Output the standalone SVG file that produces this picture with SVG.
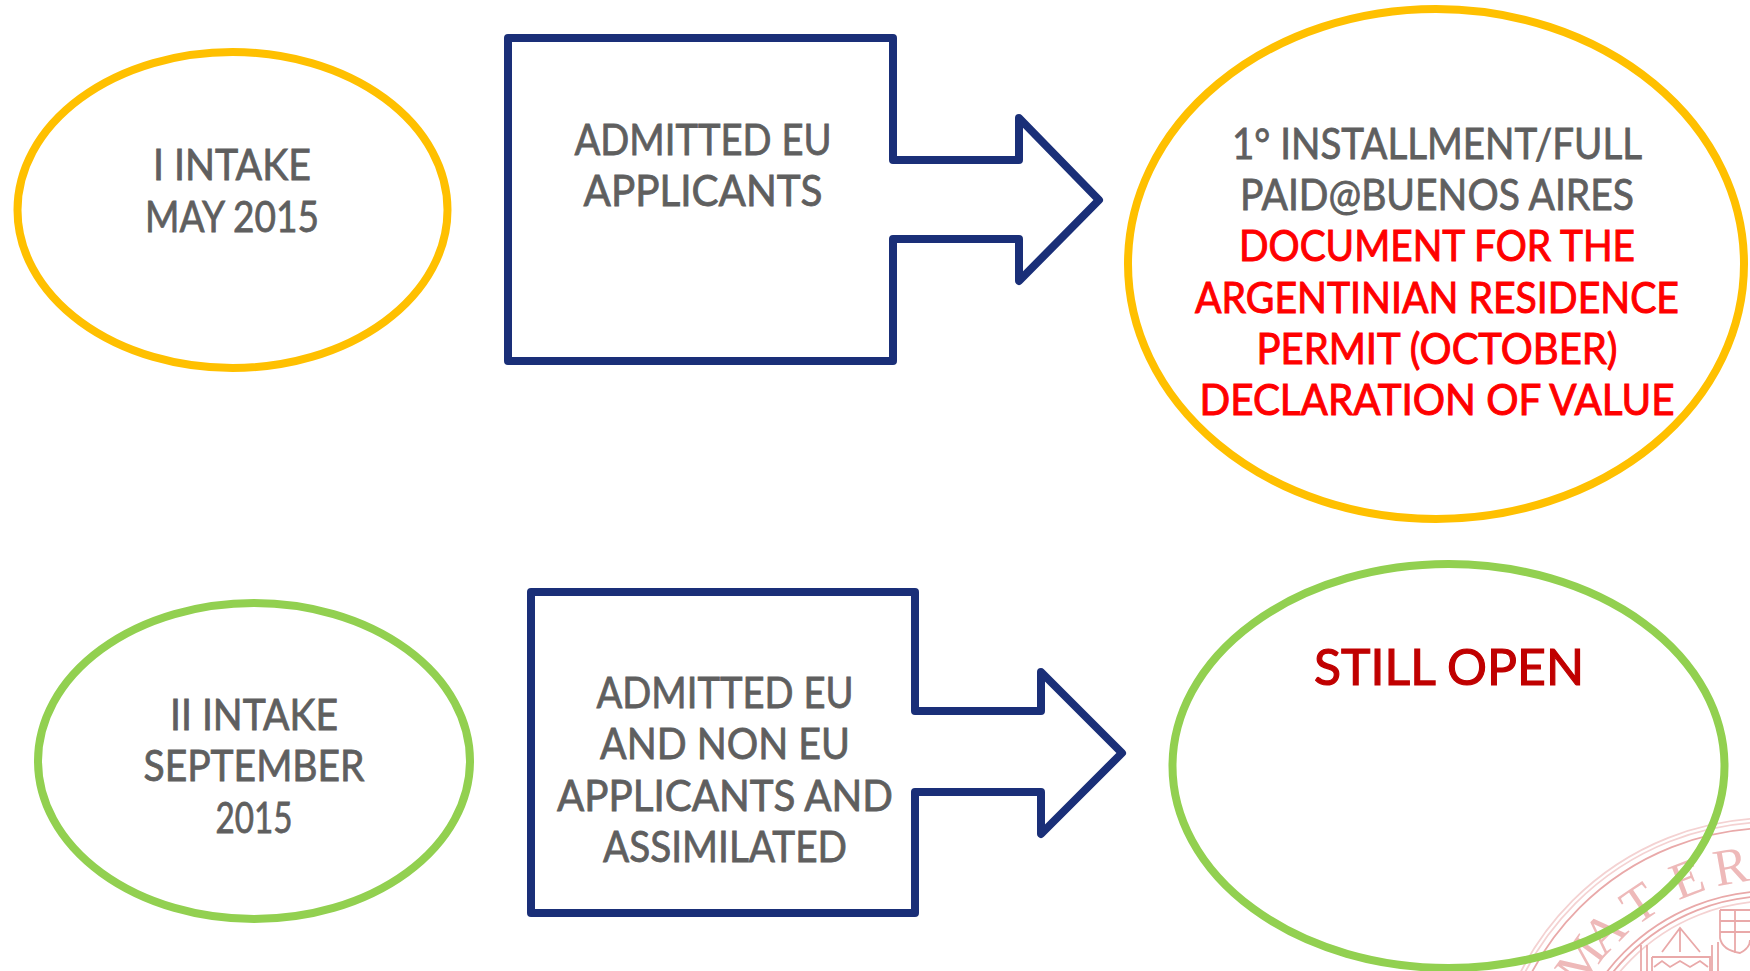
<svg xmlns="http://www.w3.org/2000/svg" width="1750" height="971" viewBox="0 0 1750 971">
<style>
text{font-family:"Lato","Noto Sans",sans-serif;text-anchor:middle;font-size:42px}
.g{fill:#5f5f5f;stroke:#5f5f5f;stroke-width:.8}
.r{fill:#ff0000;stroke:#ff0000;stroke-width:1}
.o{fill:none;stroke-width:8}
.y{stroke:#ffc000}
.l{stroke:#92d050}
.b{fill:none;stroke:#1a2f78;stroke-width:8;stroke-linejoin:round}
.s{fill:none;stroke:#e9a9a9;stroke-width:1.8}
.f{fill:none;stroke:#f4d2d2;stroke-width:1.8}
.t{font-family:"Liberation Serif",serif;font-size:52px;fill:#eeb9b9}
</style>
<rect width="1750" height="971" fill="#ffffff"/>
<g id="seal">
<circle class="f" cx="1772" cy="1100" r="282"/>
<circle class="f" cx="1772" cy="1100" r="278"/>
<circle class="s" cx="1772" cy="1100" r="272"/>
<circle class="s" cx="1772" cy="1100" r="209"/>
<circle class="s" cx="1772" cy="1100" r="204"/>
<circle class="f" cx="1772" cy="1100" r="199"/>
<text class="t" x="1772" y="880" transform="rotate(-54 1772 1100)">M</text>
<text class="t" x="1772" y="880" transform="rotate(-45 1772 1100)">A</text>
<text class="t" x="1772" y="880" transform="rotate(-34 1772 1100)">T</text>
<text class="t" x="1772" y="880" transform="rotate(-21 1772 1100)">E</text>
<text class="t" x="1772" y="880" transform="rotate(-10 1772 1100)">R</text>
<path class="s" d="M1720 910H1750M1720 910V938Q1722 950 1740 953Q1750 948 1750 940M1720 921H1750M1720 932H1750M1735 910V953M1662 952L1680 928L1700 952M1680 928V952M1652 957H1710V971M1652 957V971M1654 967L1662 961L1670 967L1680 961L1690 967L1700 961L1708 967M1641 945V971M1647 945V971M1712 945V971M1718 942V971"/>
</g>
<g id="connectors"></g>
<g id="intake-1"><ellipse class="o y" cx="232.500" cy="210" rx="215" ry="158"/>
<text class="g" x="232" y="180" textLength="158" lengthAdjust="spacingAndGlyphs">I INTAKE</text>
<text class="g" x="232" y="232" textLength="174" lengthAdjust="spacingAndGlyphs">MAY 2015</text></g>
<g id="admitted-1"><path class="b" d="M508 38H893V160H1019V118L1099 200L1019 281V239H893V361H508Z"/>
<text class="g" x="703" y="155" textLength="257" lengthAdjust="spacingAndGlyphs">ADMITTED EU</text>
<text class="g" x="703" y="206" textLength="239" lengthAdjust="spacingAndGlyphs">APPLICANTS</text></g>
<g id="payment"><ellipse class="o y" cx="1436" cy="264" rx="308" ry="255"/>
<text class="g" x="1437" y="158.500" textLength="410" lengthAdjust="spacingAndGlyphs">1° INSTALLMENT/FULL</text>
<text class="g" x="1437" y="210" textLength="394" lengthAdjust="spacingAndGlyphs">PAID@BUENOS AIRES</text>
<text class="r" x="1437" y="261" textLength="396" lengthAdjust="spacingAndGlyphs">DOCUMENT FOR THE</text>
<text class="r" x="1437" y="312.500" textLength="484" lengthAdjust="spacingAndGlyphs">ARGENTINIAN RESIDENCE</text>
<text class="r" x="1437" y="363.500" textLength="361" lengthAdjust="spacingAndGlyphs">PERMIT (OCTOBER)</text>
<text class="r" x="1437" y="415" textLength="475" lengthAdjust="spacingAndGlyphs">DECLARATION OF VALUE</text></g>
<g id="intake-2"><ellipse class="o l" cx="254" cy="761" rx="216" ry="158"/>
<text class="g" x="254" y="730" textLength="168" lengthAdjust="spacingAndGlyphs">II INTAKE</text>
<text class="g" x="254" y="781" textLength="221" lengthAdjust="spacingAndGlyphs">SEPTEMBER</text>
<text class="g" x="254" y="833" textLength="77" lengthAdjust="spacingAndGlyphs">2015</text></g>
<g id="admitted-2"><path class="b" d="M531 592H915V711H1041V672L1122 753L1041 834V792H915V913H531Z"/>
<text class="g" x="725" y="708" textLength="257" lengthAdjust="spacingAndGlyphs">ADMITTED EU</text>
<text class="g" x="725" y="759" textLength="250" lengthAdjust="spacingAndGlyphs">AND NON EU</text>
<text class="g" x="725" y="811" textLength="336" lengthAdjust="spacingAndGlyphs">APPLICANTS AND</text>
<text class="g" x="725" y="862" textLength="244" lengthAdjust="spacingAndGlyphs">ASSIMILATED</text></g>
<g id="status"><ellipse class="o l" cx="1448.500" cy="766" rx="276" ry="202"/>
<text x="1449" y="685" textLength="270" lengthAdjust="spacingAndGlyphs" style="font-size:51px;fill:#c00000;stroke:#c00000;stroke-width:1.2">STILL OPEN</text></g>
</svg>
